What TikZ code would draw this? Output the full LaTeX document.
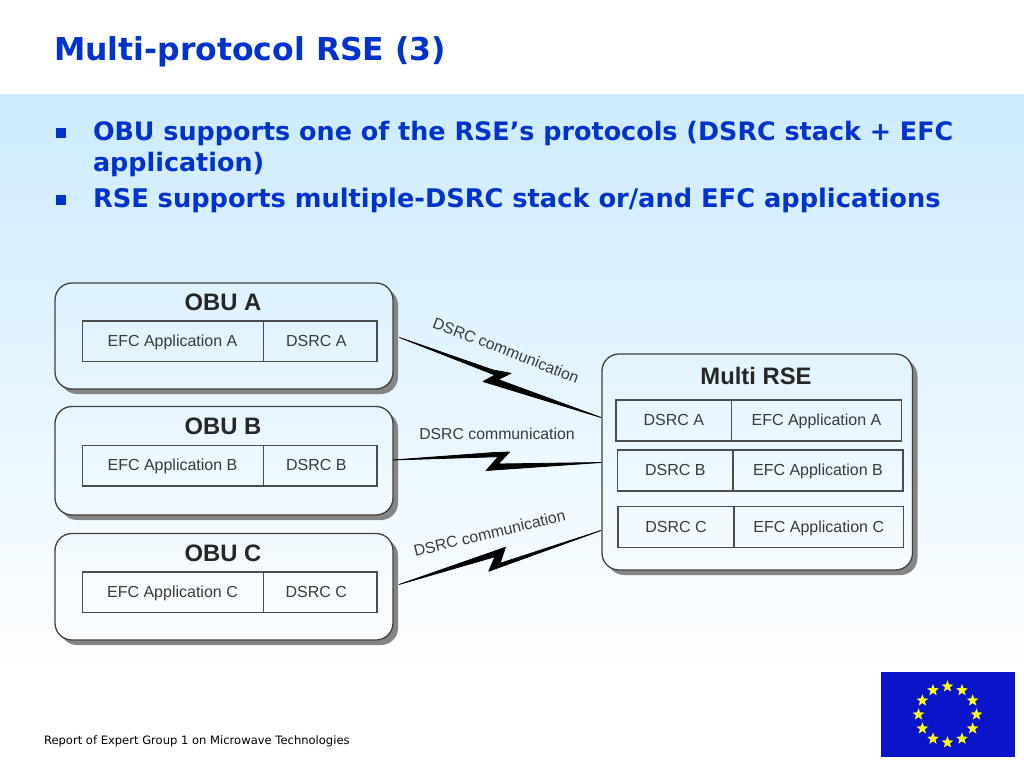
\documentclass[tikz,border=0pt]{standalone}
\usepackage{fontspec}
\usetikzlibrary{shapes.geometric}
\setmainfont{Liberation Sans}
\newfontfamily\dv{DejaVu Sans}
\definecolor{ttl}{RGB}{0,51,204}
\definecolor{bgtop}{RGB}{204,235,255}
\definecolor{flagblue}{RGB}{10,20,200}
\definecolor{starcol}{RGB}{255,255,30}
\definecolor{lbl}{RGB}{58,58,58}
\tikzset{
  x=1pt,y=-1pt,
  plain/.style={inner sep=0pt,outer sep=0pt},
  titletext/.style={plain,anchor=base west,text=ttl,font=\dv\bfseries\fontsize{31.5}{32}\selectfont},
  bodytext/.style={plain,anchor=base west,text=ttl,font=\dv\bfseries\fontsize{#1}{26}\selectfont},
  footer/.style={plain,anchor=base west,text=black,font=\dv\fontsize{11.55}{12}\selectfont},
  bulletsq/.style={plain,fill=ttl,minimum width=10pt,minimum height=10pt,anchor=north west},
  shadowbox/.style={plain,anchor=north west,fill=black!48,rounded corners=17pt},
  unit/.style={plain,anchor=north west,draw=black!75,line width=1.3pt,rounded corners=17pt},
  cell/.style={plain,anchor=north west,draw=black!70,line width=1.3pt,text=lbl,font=\fontsize{16}{16}\selectfont},
  unittitle/.style={plain,anchor=base,text=black!85,font=\bfseries\fontsize{23.8}{24}\selectfont},
  commlabel/.style={plain,text=lbl,font=\fontsize{15.8}{16}\selectfont},
  bolt/.style={fill=black,draw=black,line width=0.8pt,line join=round},
  eustar/.style={plain,star,star points=5,star point ratio=2.4,minimum size=12.5pt,fill=starcol},
}
\newcommand{\celltext}[1]{\raisebox{-1pt}[11pt][3pt]{#1}}
\newcommand{\obu}[8]{% name, top, height, title, app, dsrc, colours, cell offset
  \node[shadowbox,minimum width=338pt,minimum height=#3pt] (#1s) at (60,#2+5) {};
  \node[unit,minimum width=338pt,minimum height=#3pt,#7] (#1) at (55,#2) {};
  \node[unittitle] (#1t) at (223,#2+#8-11) {#4};
  \node[cell,minimum width=181pt,minimum height=40.5pt] (#1app) at (82.5,#2+#8) {\celltext{#5}\hspace*{1pt}};
  \node[cell,minimum width=113.5pt,minimum height=40.5pt] (#1dsrc) at (263.5,#2+#8) {\celltext{#6}\hspace*{8pt}};
}
\newcommand{\rsecells}[7]{% name, x, y, h, dividerx, dsrc, app
  \node[cell,minimum width=#5pt-#2pt,minimum height=#4pt] (#1d) at (#2,#3) {\celltext{#6}};
  \node[cell,minimum width=#2pt+285.5pt-#5pt,minimum height=#4pt] (#1a) at (#5,#3) {\celltext{#7}};
}
\begin{document}
\begin{tikzpicture}
\useasboundingbox (0,0) rectangle (1024,768);
\fill[white] (0,0) rectangle (1024,768);
\shade[top color=bgtop,bottom color=white] (0,94) rectangle (1024,680);

\node[titletext] (title) at (54,60.5) {Multi-protocol RSE (3)};
\node[bulletsq] (b1) at (56,128) {};
\node[bulletsq] (b2) at (56,195) {};
\node[bodytext=25.42] (l1) at (93,140) {OBU supports one of the RSE’s protocols (DSRC stack + EFC};
\node[bodytext=25.42] (l2) at (93,171) {application)};
\node[bodytext=25.68] (l3) at (93,207) {RSE supports multiple-DSRC stack or/and EFC applications};

\obu{oa}{283}{106}{OBU A}{EFC Application A}{DSRC A}{top color=bgtop!65!white,bottom color=bgtop!48!white}{38}
\obu{ob}{406.5}{108.5}{OBU B}{EFC Application B}{DSRC B}{top color=bgtop!46!white,bottom color=bgtop!27!white}{39}
\obu{oc}{533.5}{106.5}{OBU C}{EFC Application C}{DSRC C}{top color=bgtop!25!white,bottom color=bgtop!7!white}{38.5}

\node[shadowbox,minimum width=310.5pt,minimum height=216pt] (rses) at (607,359) {};
\node[unit,minimum width=310.5pt,minimum height=216pt,top color=bgtop!55!white,bottom color=bgtop!19!white] (rse) at (602,354) {};
\node[unittitle] (rset) at (756,384) {Multi RSE};
\rsecells{ra}{616}{400}{41}{731.5}{DSRC A}{EFC Application A}
\rsecells{rb}{617.5}{450}{41}{733}{DSRC B}{EFC Application B}
\rsecells{rc}{618}{506.5}{41}{734}{DSRC C}{EFC Application C}

% lightning connectors: free ends sit on the box edges
\coordinate (oaport) at (399.5,337.5);
\coordinate (raport) at (601,417.5);
\coordinate (obport) at (393,460);
\coordinate (rbport) at (601,462.5);
\coordinate (ocport) at (399,584.5);
\coordinate (rcport) at (601,530.5);
\draw[bolt] (oaport) -- (493,370) -- (511,373.3) -- (498,379.5) -- (raport) -- (483,381.5) -- (495,375) -- cycle;
\draw[bolt] (obport) -- (493.3,452.6) -- (509.5,452) -- (498.3,464) -- (rbport) -- (486.2,470.5) -- (498.3,456.7) -- cycle;
\draw[bolt] (ocport) -- (495,551) -- (505.5,547.2) -- (500,563.3) -- (rcport) -- (488.8,571.2) -- (495,556.7) -- cycle;

\node[commlabel,rotate=-21.3] (ca) at (506,350) {DSRC communication};
\node[commlabel] (cb) at (497,434) {DSRC communication};
\node[commlabel,rotate=13.6] (cc) at (489.5,533) {DSRC communication};

\node[footer] (foot) at (44,744) {Report of Expert Group 1 on Microwave Technologies};

\node[plain,anchor=north west,fill=flagblue,minimum width=133.5pt,minimum height=84.5pt] (flag) at (881,672.3) {};
\foreach \a in {0,30,...,330}
  \node[eustar] (s\a) at ({947.5+29*sin(\a)},{714.5-28*cos(\a)}) {};
\end{tikzpicture}
\end{document}
